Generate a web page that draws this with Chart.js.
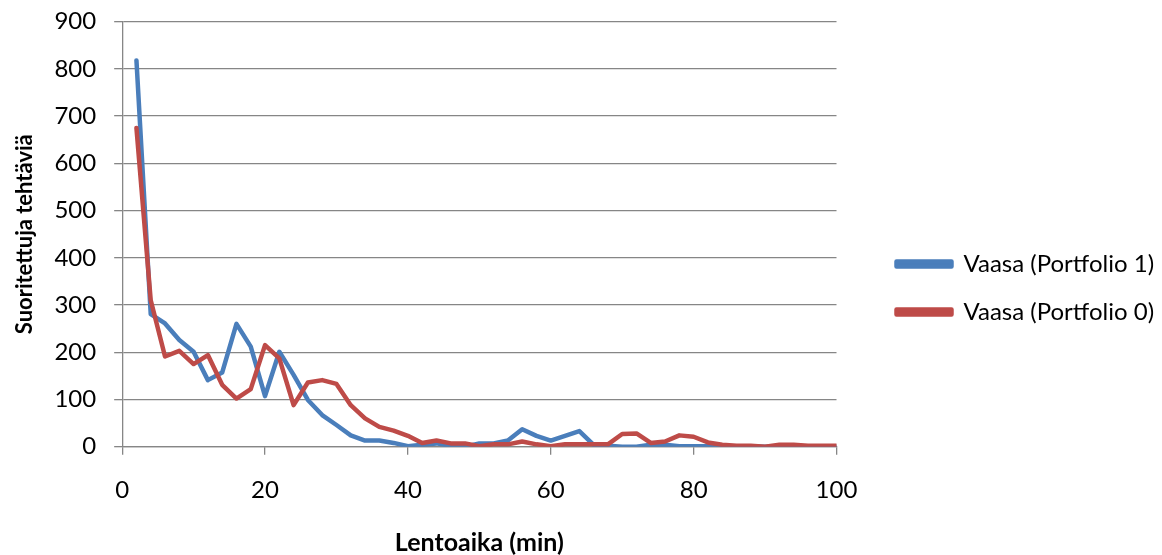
<!DOCTYPE html>
<html lang="fi">
<head>
    <meta charset="UTF-8">
    <title>Suoritettuja tehtäviä</title>
    <script src="https://cdn.jsdelivr.net/npm/chart.js"></script>
    <style>
        html, body { margin: 0; padding: 0; background: #fff; }
        #wrap { width: 1162px; height: 555px; }
    </style>
</head>
<body>
    <div id="wrap"><canvas id="chart"></canvas></div>
    <script>
        // flight time (min) on the x axis
        const minutes = [2, 4, 6, 8, 10, 12, 14, 16, 18, 20, 22, 24, 26, 28, 30, 32, 34, 36, 38, 40,
            42, 44, 46, 48, 50, 52, 54, 56, 58, 60, 62, 64, 66, 68, 70, 72, 74, 76, 78, 80,
            82, 84, 86, 88, 90, 92, 94, 96, 98, 100];

        const portfolio1 = [818, 281, 261, 226, 201, 141, 157, 260, 212, 107, 201, 152, 99, 67, 46, 24, 13, 13, 8, 1,
            4, 7, 2, 0, 7, 7, 13, 37, 23, 13, 23, 33, 4, 2, 0, 0, 4, 4, 1, 1,
            1, 1, 1, 1, 0, 1, 0, 1, 0, 0];

        const portfolio0 = [675, 310, 191, 203, 175, 194, 131, 102, 122, 215, 187, 88, 136, 141, 133, 88, 60, 42, 34, 23,
            8, 13, 7, 7, 1, 5, 5, 11, 5, 1, 5, 5, 5, 5, 27, 28, 8, 11, 24, 21,
            9, 4, 2, 2, 0, 4, 4, 2, 2, 2];

        const xTicks = [0, 20, 40, 60, 80, 100];
        const yTicks = [0, 100, 200, 300, 400, 500, 600, 700, 800, 900];

        const gridColor = '#868686';
        const font = 'Lato';

        function points(values) {
            return values.map((v, i) => ({ x: minutes[i], y: v }));
        }

        // legend sits further right, with a gap after the plot
        const legendShift = {
            id: 'legendShift',
            beforeInit(chart) {
                const fit = chart.legend.fit;
                chart.legend.fit = function () {
                    fit.call(this);
                    this.width += 35;
                };
            },
            afterLayout(chart) {
                chart.legend.left += 36;
                chart.legend.top += 21;
            }
        };

        new Chart(document.getElementById('chart'), {
            type: 'line',
            data: {
                datasets: [{
                    label: 'Vaasa (Portfolio 0)',
                    data: points(portfolio0),
                    borderColor: '#BE4B48',
                    backgroundColor: '#BE4B48',
                    borderWidth: 4.5,
                }, {
                    label: 'Vaasa (Portfolio 1)',
                    data: points(portfolio1),
                    borderColor: '#4A7EBB',
                    backgroundColor: '#4A7EBB',
                    borderWidth: 4.5,
                }]
            },
            options: {
                responsive: true,
                maintainAspectRatio: false,
                animation: false,
                layout: { padding: 0 },
                elements: {
                    point: { radius: 0 },
                    line: { tension: 0, borderJoinStyle: 'round', borderCapStyle: 'round' }
                },
                plugins: {
                    tooltip: { enabled: false },
                    legend: {
                        position: 'right',
                        labels: {
                            sort: (a, b) => b.datasetIndex - a.datasetIndex,
                            boxWidth: 55,
                            boxHeight: 5,
                            padding: 24,
                            color: '#000',
                            font: { family: font, size: 24 }
                        }
                    }
                },
                scales: {
                    x: {
                        type: 'linear',
                        min: 0,
                        max: 100,
                        afterBuildTicks: axis => { axis.ticks = xTicks.map(v => ({ value: v })); },
                        grid: { drawOnChartArea: false, color: gridColor, lineWidth: 1.3, tickLength: 8 },
                        border: { color: gridColor, width: 1.3 },
                        ticks: { color: '#000', padding: 21, maxRotation: 0, font: { family: font, size: 24 } },
                        title: {
                            display: true,
                            text: 'Lentoaika (min)',
                            color: '#000',
                            padding: { top: 4.5, bottom: 0 },
                            font: { family: font, size: 25, weight: 'bold', lineHeight: 1 }
                        }
                    },
                    y: {
                        min: 0,
                        max: 900,
                        afterBuildTicks: axis => { axis.ticks = yTicks.map(v => ({ value: v })); },
                        afterFit: axis => { axis.paddingTop = 21.7; },
                        grid: { color: gridColor, lineWidth: 1.3, tickLength: 8 },
                        border: { color: gridColor, width: 1.3 },
                        ticks: { color: '#000', padding: 18, font: { family: font, size: 24 } },
                        title: {
                            display: true,
                            text: 'Suoritettuja tehtäviä',
                            color: '#000',
                            padding: { top: 12, bottom: -2 },
                            font: { family: font, size: 22, weight: 'bold' }
                        }
                    }
                }
            },
            plugins: [legendShift]
        });
    </script>
</body>
</html>
